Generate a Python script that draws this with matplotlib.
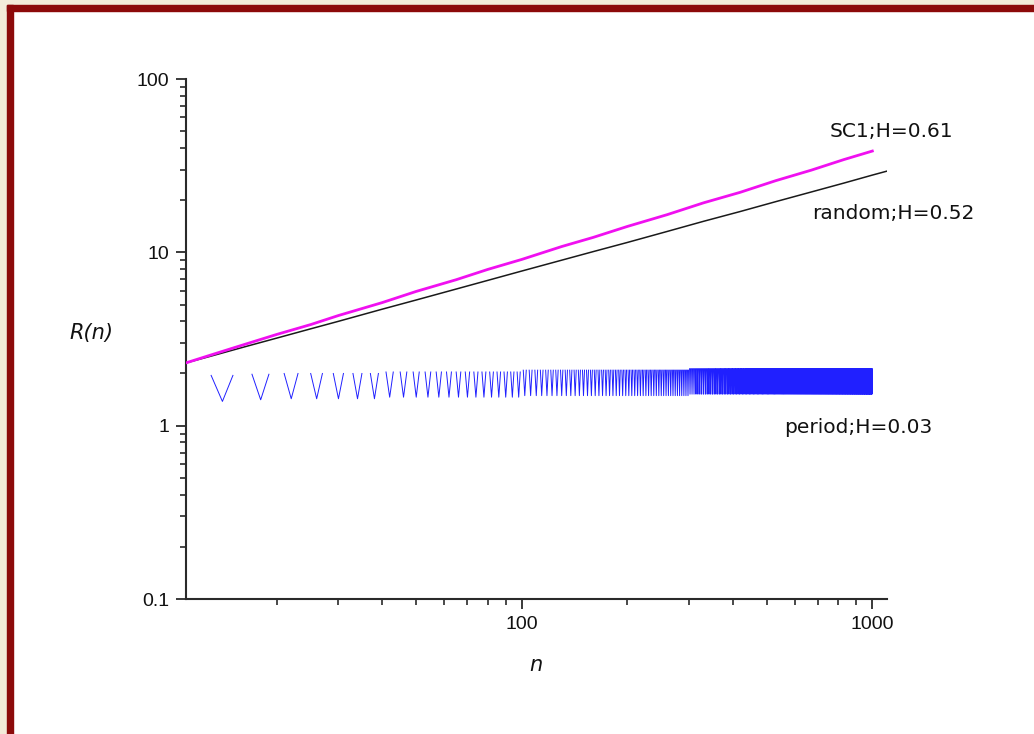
import numpy as np
import matplotlib
matplotlib.use("Agg")
import matplotlib.pyplot as plt
from matplotlib.patches import Rectangle
from matplotlib.ticker import LogLocator, FixedLocator, FixedFormatter, NullFormatter

# --- data ---
# SC1 series (magenta), R(n) at selected n
sc1_n = [11, 13, 16, 20, 25, 30, 40, 50, 65, 80, 100, 130, 160, 200, 260, 330, 420, 530, 670, 830, 1000]
sc1_r = [2.30, 2.56, 2.92, 3.36, 3.83, 4.32, 5.13, 5.95, 6.95, 7.97, 9.10, 10.8, 12.2, 14.1, 16.5, 19.3, 22.2, 25.9, 29.8, 34.3, 38.4]

# random series (black)
rnd_n = [11, 13, 16, 20, 25, 30, 40, 50, 65, 80, 100, 130, 160, 200, 260, 330, 420, 530, 670, 830, 1000, 1100]
rnd_r = [2.30, 2.52, 2.83, 3.20, 3.62, 4.00, 4.70, 5.31, 6.14, 6.89, 7.80, 9.01, 10.1, 11.4, 13.2, 15.1, 17.2, 19.6, 22.3, 25.1, 27.9, 29.4]

# period series (blue): V shaped cycle of length 4, top at n%4 in (1,3), bottom at n%4==2, gap at n%4==0
period_n = np.arange(13, 1001)
period_seg_start = [13, 17, 21, 40, 100, 300]
period_top = [1.95, 1.98, 2.00, 2.04, 2.09, 2.13]
period_bottom = [1.38, 1.41, 1.43, 1.46, 1.49, 1.52]

labels = ["SC1;H=0.61", "random;H=0.52", "period;H=0.03"]

# build the period series from the table
period_r = []
for n in period_n:
    seg = 0
    for i, s in enumerate(period_seg_start):
        if n >= s:
            seg = i
    ph = n % 4
    if ph == 0:
        period_r.append(np.nan)
    elif ph == 2:
        period_r.append(period_bottom[seg])
    else:
        period_r.append(period_top[seg])

W, H = 1034, 734
fig = plt.figure(figsize=(W / 100, H / 100), dpi=100)
fig.patch.set_facecolor("white")

# frame around the picture: beige margin + dark red border (top and left only)
def px_rect(x0, y0, x1, y1, color):
    fig.patches.append(Rectangle((x0 / W, 1 - y1 / H), (x1 - x0) / W, (y1 - y0) / H,
                                 transform=fig.transFigure, color=color, zorder=0))

px_rect(0, 0, W, 5, "#f3ebd9")
px_rect(0, 0, 7, H, "#f3ebd9")
px_rect(7, 5, W, 11, "#8c0a0a")
px_rect(7, 5, 13, H, "#8c0a0a")

ax = fig.add_axes([185.7 / W, 1 - 599 / H, (886.7 - 185.7) / W, (599 - 79) / H])
ax.set_xscale("log")
ax.set_yscale("log")

ax.plot(rnd_n, rnd_r, color="#1a1a1a", lw=1.1, zorder=3)
ax.plot(sc1_n, sc1_r, color="#f010f0", lw=2.0, zorder=4)
ax.plot(period_n, period_r, color="#2020ff", lw=0.7, zorder=2)

ax.set_xlim(11, 1099)
ax.set_ylim(0.1, 100)

for s in ["top", "right"]:
    ax.spines[s].set_visible(False)
for s in ["left", "bottom"]:
    ax.spines[s].set_linewidth(1.5)
    ax.spines[s].set_color("#2a2a2a")

ax.xaxis.set_major_locator(FixedLocator([100, 1000]))
ax.xaxis.set_major_formatter(FixedFormatter(["100", "1000"]))
ax.xaxis.set_minor_locator(LogLocator(base=10, subs=np.arange(2, 10)))
ax.xaxis.set_minor_formatter(NullFormatter())
ax.yaxis.set_major_locator(FixedLocator([0.1, 1, 10, 100]))
ax.yaxis.set_major_formatter(FixedFormatter(["0.1", "1", "10", "100"]))
ax.yaxis.set_minor_locator(LogLocator(base=10, subs=np.arange(2, 10)))
ax.yaxis.set_minor_formatter(NullFormatter())

ax.tick_params(which="major", direction="out", length=7, width=1.3, color="#2a2a2a", pad=5)
ax.tick_params(which="minor", direction="out", length=4, width=1.2, color="#2a2a2a")
for lab in ax.get_xticklabels() + ax.get_yticklabels():
    lab.set_fontfamily("Liberation Sans")
    lab.set_fontsize(14)
    lab.set_color("#111111")

# annotations
fig.text(830 / W, 1 - 137 / H, labels[0], fontsize=14.5, va="baseline", ha="left", color="#111111")
fig.text(812 / W, 1 - 219 / H, labels[1], fontsize=14.5, va="baseline", ha="left", color="#111111")
fig.text(784 / W, 1 - 433 / H, labels[2], fontsize=14.5, va="baseline", ha="left", color="#111111")

fig.text(91 / W, 1 - 333 / H, "R(n)", fontsize=15, style="italic", ha="center", va="center", color="#111111")
fig.text(536 / W, 1 - 665 / H, "n", fontsize=15, style="italic", ha="center", va="center", color="#111111")

fig.savefig("out.png", dpi=100)
